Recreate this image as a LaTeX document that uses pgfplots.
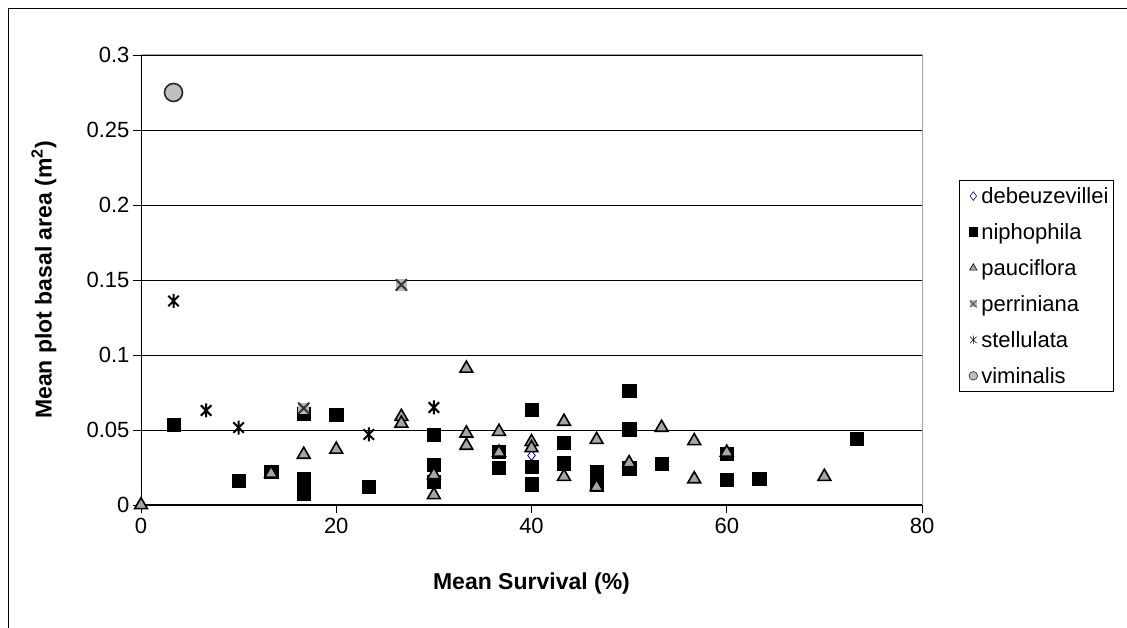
\documentclass[border=0pt]{standalone}
\usepackage{fontspec}
\setmainfont{Liberation Sans}
\usepackage{pgfplots}
\pgfplotsset{compat=1.18}
\pgfdeclareplotmark{xstar}{%
  \pgfpathmoveto{\pgfqpoint{-.75\pgfplotmarksize}{-.75\pgfplotmarksize}}%
  \pgfpathlineto{\pgfqpoint{.75\pgfplotmarksize}{.75\pgfplotmarksize}}%
  \pgfpathmoveto{\pgfqpoint{-.75\pgfplotmarksize}{.75\pgfplotmarksize}}%
  \pgfpathlineto{\pgfqpoint{.75\pgfplotmarksize}{-.75\pgfplotmarksize}}%
  \pgfpathmoveto{\pgfqpoint{0pt}{-\pgfplotmarksize}}%
  \pgfpathlineto{\pgfqpoint{0pt}{\pgfplotmarksize}}%
  \pgfusepathqstroke}
\pgfdeclareplotmark{xsq}{%
  \pgfpathrectangle{\pgfqpoint{-.8\pgfplotmarksize}{-.8\pgfplotmarksize}}{\pgfqpoint{1.6\pgfplotmarksize}{1.6\pgfplotmarksize}}%
  \pgfsetfillcolor{gray!55}\pgfusepathqfill
  \pgfpathmoveto{\pgfqpoint{-.8\pgfplotmarksize}{-.8\pgfplotmarksize}}%
  \pgfpathlineto{\pgfqpoint{.8\pgfplotmarksize}{.8\pgfplotmarksize}}%
  \pgfpathmoveto{\pgfqpoint{-.8\pgfplotmarksize}{.8\pgfplotmarksize}}%
  \pgfpathlineto{\pgfqpoint{.8\pgfplotmarksize}{-.8\pgfplotmarksize}}%
  \pgfusepathqstroke}
\begin{document}
\begin{tikzpicture}[x=1pt,y=1pt]
\useasboundingbox (0,0) rectangle (1127,628);
\draw[black, line width=0.8pt] (8.5,-5) -- (8.5,619.5) -- (1135,619.5);
\begin{axis}[
  at={(141pt,123pt)}, anchor=south west,
  scale only axis, width=781pt, height=450pt,
  xmin=0, xmax=80, ymin=0, ymax=0.3,
  xtick={0,20,40,60,80},
  ytick={0,0.05,0.1,0.15,0.2,0.25,0.3},
  yticklabels={0,0.05,0.1,0.15,0.2,0.25,0.3},
  xticklabels={0,20,40,60,80},
  tick pos=left, tick align=outside, major tick length=8pt,
  tick style={black, line width=0.8pt},
  axis line style={gray!70, line width=1pt},
  ymajorgrids, major grid style={black, line width=0.9pt},
  tick label style={font=\fontsize{22}{26}\selectfont},
  xticklabel style={yshift=-2pt},
  clip=false,
  legend style={at={(1.0474,0.722)}, anchor=north west,
    draw=black, line width=0.6pt, font=\fontsize{22}{26}\selectfont,
    row sep=14.5pt, inner xsep=3pt, inner ysep=5pt,
    /tikz/every odd column/.style={column sep=0pt}},
  legend cell align=left,
  legend image code/.code={\path (0pt,0pt) (15pt,0pt); \draw[#1, mark size=4.3pt, line width=0.6pt] plot coordinates {(10pt,0pt)};},
]
\addplot[only marks, mark=diamond, mark size=5pt, draw=blue!70!black, line width=0.8pt] coordinates {
(40,0.033)
};
\addlegendentry{debeuzevillei}
\addplot[only marks, mark=square*, mark size=6.6pt, draw=black, fill=black] coordinates {
(3.33,0.0533) (10,0.0162) (13.33,0.022) (16.67,0.061) (16.67,0.0173) (16.67,0.0078)
(20,0.06) (23.33,0.0122) (30,0.047) (30,0.027) (30,0.0156) (36.67,0.0356) (36.67,0.0251)
(40,0.0633) (40,0.0256) (40,0.0138) (43.33,0.0416) (43.33,0.0278) (46.67,0.022) (46.67,0.0135)
(50,0.076) (50,0.0505) (50,0.0245) (53.33,0.0273) (60,0.034) (60,0.0171) (63.33,0.0176) (73.33,0.0444)
};
\addlegendentry{niphophila}
\addplot[only marks, mark=triangle*, mark size=7.4pt, draw=black, fill=gray!70, line width=1.6pt] coordinates {
(0,0) (13.33,0.021) (16.67,0.0336) (20,0.037) (26.67,0.0589) (26.67,0.0544) (30,0.02) (30,0.0067)
(33.33,0.091) (33.33,0.0478) (33.33,0.0396) (36.67,0.0489) (36.67,0.035) (40,0.042) (40,0.038)
(43.33,0.0556) (43.33,0.0189) (46.67,0.0435) (46.67,0.012) (50,0.028) (53.33,0.0516)
(56.67,0.0427) (56.67,0.0173) (60,0.035) (70,0.0189)
};
\addlegendentry{pauciflora}
\addplot[only marks, mark=xsq, mark size=7pt, draw=gray!40!black, line width=2pt] coordinates {
(16.67,0.0645) (26.67,0.1467)
};
\addlegendentry{perriniana}
\addplot[only marks, mark=xstar, mark size=7pt, draw=black, line width=2pt] coordinates {
(3.33,0.136) (6.67,0.063) (10,0.0516) (23.33,0.047) (30,0.065)
};
\addlegendentry{stellulata}
\addplot[only marks, mark=*, mark size=9pt, draw=black!85, fill=gray!50, line width=1.6pt] coordinates {
(3.33,0.275)
};
\addlegendentry{viminalis}
\draw[black, line width=1pt] (rel axis cs:0,0) -- (rel axis cs:1,0);
\draw[black, line width=1pt] (rel axis cs:0,0) -- (rel axis cs:0,1);
\end{axis}
\node[font=\bfseries\fontsize{23}{27}\selectfont] at (531.5,44) {Mean Survival (\%)};
\node[font=\bfseries\fontsize{23}{27}\selectfont, rotate=90] at (44,348) {Mean plot basal area (m\textsuperscript{2})};
\end{tikzpicture}
\end{document}
